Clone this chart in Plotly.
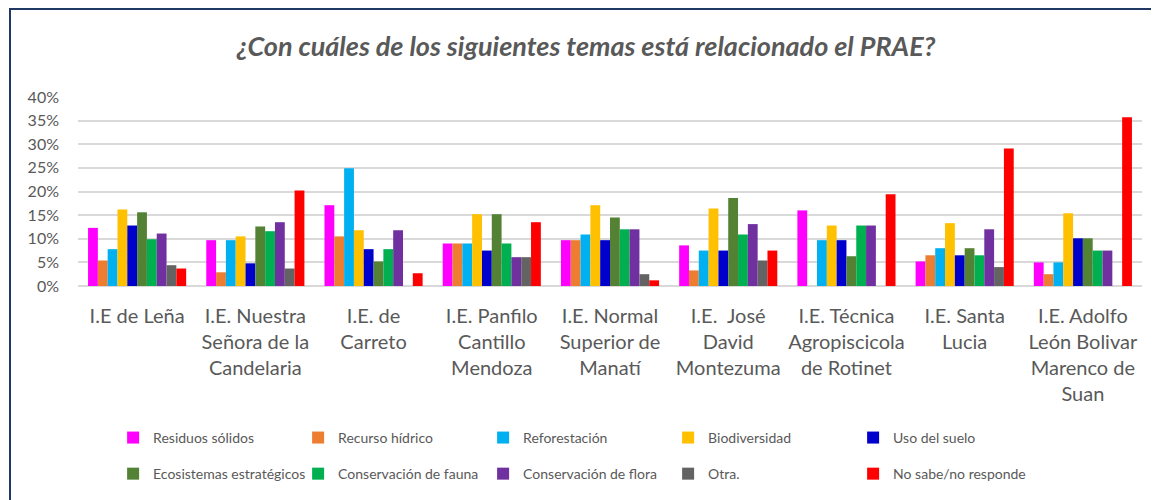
import plotly.graph_objects as go

categories = [
    "I.E de Leña",
    "I.E. Nuestra<br>Señora de la<br>Candelaria",
    "I.E. de<br>Carreto",
    "I.E. Panfilo<br>Cantillo<br>Mendoza",
    "I.E. Normal<br>Superior de<br>Manatí",
    "I.E.  José<br>David<br>Montezuma",
    "I.E. Técnica<br>Agropiscicola<br>de Rotinet",
    "I.E. Santa<br>Lucia",
    "I.E. Adolfo<br>León Bolivar<br>Marenco de<br>Suan",
]

residuos = [12.3, 9.7, 17.1, 9.0, 9.7, 8.6, 16.0, 5.2, 5.0]
recurso = [5.4, 2.9, 10.5, 9.0, 9.7, 3.3, 0, 6.5, 2.5]
reforestacion = [7.8, 9.7, 24.9, 9.0, 10.9, 7.5, 9.7, 8.0, 5.0]
biodiversidad = [16.2, 10.5, 11.8, 15.2, 17.1, 16.4, 12.8, 13.3, 15.4]
uso_suelo = [12.8, 4.8, 7.8, 7.5, 9.7, 7.5, 9.7, 6.5, 10.1]
ecosistemas = [15.6, 12.6, 5.2, 15.2, 14.5, 18.6, 6.3, 8.0, 10.1]
fauna = [9.9, 11.6, 7.8, 9.0, 12.0, 10.9, 12.8, 6.5, 7.5]
flora = [11.1, 13.5, 11.8, 6.1, 12.0, 13.1, 12.8, 12.0, 7.5]
otra = [4.4, 3.7, 0, 6.1, 2.5, 5.4, 0, 4.0, 0]
no_sabe = [3.7, 20.2, 2.7, 13.5, 1.2, 7.5, 19.4, 29.1, 35.7]

series = [
    ("Residuos sólidos", residuos, "#FF00FF"),
    ("Recurso hídrico", recurso, "#ED7D31"),
    ("Reforestación", reforestacion, "#00B0F0"),
    ("Biodiversidad", biodiversidad, "#FFC000"),
    ("Uso del suelo", uso_suelo, "#0000CC"),
    ("Ecosistemas estratégicos", ecosistemas, "#548235"),
    ("Conservación de fauna", fauna, "#00B050"),
    ("Conservación de flora", flora, "#7030A0"),
    ("Otra.", otra, "#636363"),
    ("No sabe/no responde", no_sabe, "#FF0000"),
]

fig = go.Figure()
for i, (name, vals, color) in enumerate(series):
    fig.add_trace(go.Bar(
        name=name,
        x=categories,
        y=[v / 100 for v in vals],
        marker=dict(color=color, line=dict(width=0)),
        legend="legend" if i < 5 else "legend2",
    ))

legend_style = dict(
    orientation="h",
    xanchor="left",
    yanchor="middle",
    x=0.033,
    entrywidth=140,
    entrywidthmode="pixels",
    font=dict(family="Lato, sans-serif", size=14, color="#595959"),
    bgcolor="rgba(0,0,0,0)",
    itemclick=False,
)

# page body has an 8px margin, so the figure is drawn 8px smaller
W, H = 1151, 492

fig.update_layout(
    width=W,
    height=H,
    margin=dict(l=70, r=17, t=89, b=214, autoexpand=False),
    paper_bgcolor="white",
    plot_bgcolor="white",
    barmode="group",
    bargap=0.17,
    bargroupgap=0,
    title=dict(
        text="<i>¿Con cuáles de los siguientes temas está relacionado el PRAE?</i>",
        x=578 / W, xref="container", xanchor="center",
        y=1 - 39 / H, yref="container", yanchor="middle",
        font=dict(family="Lato, sans-serif", size=27, color="#595959", weight="bold"),
    ),
    legend=dict(legend_style, y=-0.804),
    legend2=dict(legend_style, y=-0.995),
    yaxis=dict(
        range=[0, 0.4],
        dtick=0.05,
        tickformat=".0%",
        showgrid=True,
        gridcolor="#D9D9D9",
        gridwidth=2,
        zeroline=True,
        zerolinecolor="#D9D9D9",
        zerolinewidth=2,
        tickfont=dict(family="Lato, sans-serif", size=16, color="#595959"),
        ticks="",
        ticklabelstandoff=18,
    ),
    xaxis=dict(
        tickfont=dict(family="Lato, sans-serif", size=20, color="#595959"),
        tickangle=0,
        showline=False,
        ticks="",
        ticklabelstandoff=16,
    ),
    shapes=[dict(
        type="rect", xref="paper", yref="paper",
        x0=(10 - 78) / 1064, x1=(1200 - 78) / 1064,
        y0=(286 - 540) / 189, y1=(286 - 9) / 189,
        line=dict(color="#1F3864", width=2),
        fillcolor="rgba(0,0,0,0)",
        layer="below",
    )],
)

fig.write_html("out.html")
